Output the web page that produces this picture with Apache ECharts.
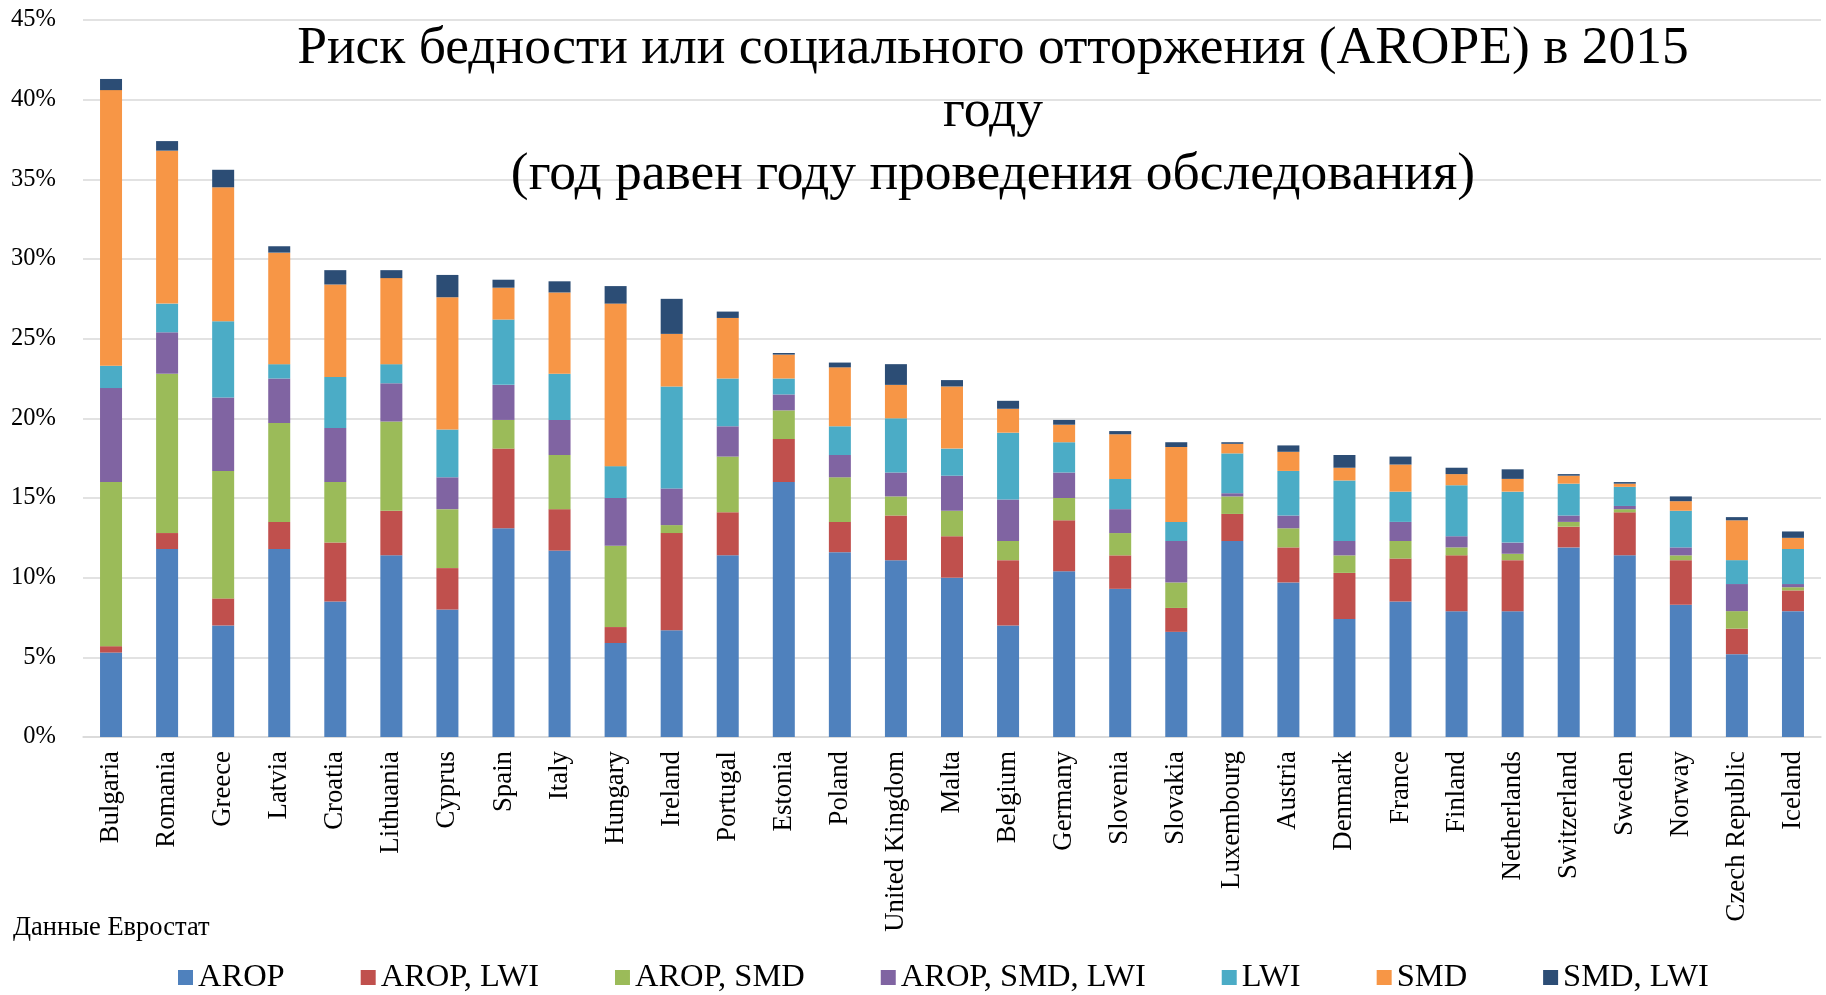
<!DOCTYPE html>
<html>
<head>
<meta charset="utf-8">
<script src="https://cdn.jsdelivr.net/npm/echarts@6/dist/echarts.min.js"></script>
<style>html,body{margin:0;padding:0;background:#fff;}#c{width:1826px;height:995px;}</style>
</head>
<body>
<div id="c"></div>
<script>
const categories = ['Bulgaria','Romania','Greece','Latvia','Croatia','Lithuania','Cyprus','Spain','Italy','Hungary','Ireland','Portugal','Estonia','Poland','United Kingdom','Malta','Belgium','Germany','Slovenia','Slovakia','Luxembourg','Austria','Denmark','France','Finland','Netherlands','Switzerland','Sweden','Norway','Czech Republic','Iceland'];
const seriesNames = ['AROP','AROP, LWI','AROP, SMD','AROP, SMD, LWI','LWI','SMD','SMD, LWI'];
const arop        = [5.3,11.8,7.0,11.8,8.5,11.4,8.0,13.1,11.7,5.9,6.7,11.4,16.0,11.6,11.1,10.0,7.0,10.4,9.3,6.6,12.3,9.7,7.4,8.5,7.9,7.9,11.9,11.4,8.3,5.2,7.9];
const aropLwi     = [0.4,1.0,1.7,1.7,3.7,2.8,2.6,5.0,2.6,1.0,6.1,2.7,2.7,1.9,2.8,2.6,4.1,3.2,2.1,1.5,1.7,2.2,2.9,2.7,3.5,3.2,1.3,2.7,2.8,1.6,1.3];
const aropSmd     = [10.3,10.0,8.0,6.2,3.8,5.6,3.7,1.8,3.4,5.1,0.5,3.5,1.8,2.8,1.2,1.6,1.2,1.4,1.4,1.6,1.1,1.2,1.1,1.1,0.5,0.4,0.3,0.2,0.3,1.1,0.2];
const aropSmdLwi  = [5.9,2.6,4.6,2.8,3.4,2.4,2.0,2.2,2.2,3.0,2.3,1.9,1.0,1.4,1.5,2.2,2.6,1.6,1.5,2.6,0.2,0.8,0.9,1.2,0.7,0.7,0.4,0.2,0.5,1.7,0.2];
const lwi         = [1.4,1.8,4.8,0.9,3.2,1.2,3.0,4.1,2.9,2.0,6.4,3.0,1.0,1.8,3.4,1.7,4.2,1.9,1.9,1.2,2.5,2.8,3.8,1.9,3.2,3.2,2.0,1.2,2.3,1.5,2.2];
const smd         = [17.3,9.6,8.4,7.0,5.8,5.4,8.3,2.0,5.1,10.2,3.3,3.8,1.5,3.7,2.1,3.9,1.5,1.1,2.8,4.7,0.6,1.2,0.8,1.7,0.7,0.8,0.5,0.2,0.6,2.5,0.7];
const smdLwi      = [0.7,0.6,1.1,0.4,0.9,0.5,1.4,0.5,0.7,1.1,2.2,0.4,0.1,0.3,1.3,0.4,0.5,0.3,0.2,0.3,0.1,0.4,0.8,0.5,0.4,0.6,0.1,0.1,0.3,0.2,0.4];
const seriesData = [arop, aropLwi, aropSmd, aropSmdLwi, lwi, smd, smdLwi];
const colors = ['#4F81BD','#C0504D','#9BBB59','#8064A2','#4BACC6','#F79646','#2C4D75'];
const titleText = 'Риск бедности или социального отторжения (AROPE) в 2015\nгоду\n(год равен году проведения обследования)';
const sourceText = 'Данные Евростат';

const SERIF = 'Liberation Serif';
const chart = echarts.init(document.getElementById('c'));
chart.setOption({
  animation: false,
  backgroundColor: '#fff',
  color: colors,
  title: {
    text: titleText,
    left: 988,
    top: 12,
    textAlign: 'center',
    textStyle: { fontFamily: SERIF, fontSize: 53.5, fontWeight: 'normal', color: '#000', lineHeight: 63 }
  },
  graphic: [{
    type: 'text', x: 13, y: 928,
    style: { text: sourceText, font: '26.5px "Liberation Serif"', fill: '#000', verticalAlign: 'middle' }
  }],
  legend: {
    data: seriesNames,
    left: 173, top: 956,
    icon: 'rect', itemWidth: 15, itemHeight: 15, itemGap: 76,
    textStyle: { fontFamily: SERIF, fontSize: 32.5, color: '#000' }
  },
  grid: { left: 83, right: 5, top: 20, bottom: 258, containLabel: false },
  xAxis: {
    type: 'category', data: categories,
    axisTick: { show: false },
    axisLine: { lineStyle: { color: '#d9d9d9', width: 1.5 } },
    axisLabel: { rotate: 90, interval: 0, margin: 14, fontFamily: SERIF, fontSize: 26.8, color: '#000' }
  },
  yAxis: {
    type: 'value', min: 0, max: 45, interval: 5,
    axisLine: { show: false }, axisTick: { show: false },
    splitLine: { lineStyle: { color: '#d9d9d9', width: 1.5 } },
    axisLabel: { formatter: '{value}%', margin: 27, fontFamily: SERIF, fontSize: 24.5, color: '#000' }
  },
  series: seriesNames.map((n, i) => ({
    name: n, type: 'bar', stack: 'total', barWidth: 22,
    data: seriesData[i],
    itemStyle: { color: colors[i] }
  }))
});
</script>
</body>
</html>
